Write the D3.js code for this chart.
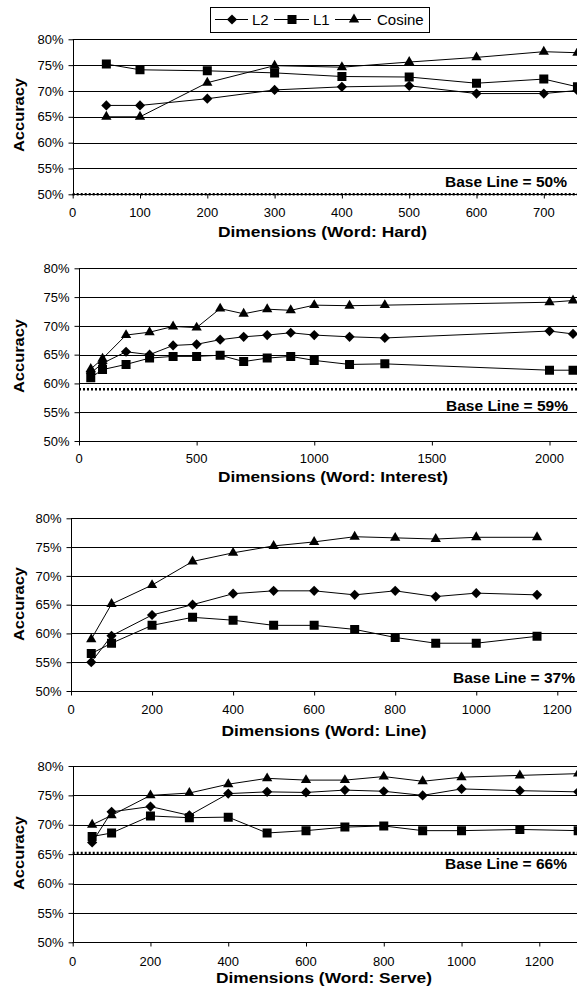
<!DOCTYPE html>
<html>
<head>
<meta charset="utf-8">
<script src="https://cdn.jsdelivr.net/npm/d3@7"></script>
<style>
  html, body { margin: 0; padding: 0; background: #fff; }
  svg { display: block; }
  text { font-family: "Liberation Sans", Arial, sans-serif; fill: #000; }
</style>
</head>
<body>
<svg id="chart" width="577" height="987"></svg>
<script>
// ---------------- data ----------------
const seriesNames = ["L2", "L1", "Cosine"];
const words = ["Hard", "Interest", "Line", "Serve"];
const baselineLabels = ["50%", "59%", "37%", "66%"];
const baselineValues = [50, 59, 37, 65.2];
const yTickValues = [50, 55, 60, 65, 70, 75, 80];

const hardDims   = [50, 100, 200, 300, 400, 500, 600, 700, 750];
const hardL2     = [67.2, 67.2, 68.5, 70.2, 70.8, 71.0, 69.5, 69.5, 70.1];
const hardL1     = [75.2, 74.1, 73.9, 73.5, 72.8, 72.7, 71.5, 72.3, 70.8];
const hardCos    = [65.0, 65.0, 71.6, 74.9, 74.6, 75.6, 76.5, 77.6, 77.4];
const hardTicks  = [0, 100, 200, 300, 400, 500, 600, 700];

const interestDims  = [50, 100, 200, 300, 400, 500, 600, 700, 800, 900, 1000, 1150, 1300, 2000, 2100];
const interestL2    = [61.8, 63.5, 65.5, 65.0, 66.6, 66.8, 67.6, 68.1, 68.4, 68.8, 68.4, 68.1, 67.9, 69.1, 68.6];
const interestL1    = [61.0, 62.4, 63.3, 64.4, 64.7, 64.7, 64.9, 63.8, 64.4, 64.7, 64.0, 63.3, 63.4, 62.3, 62.3];
const interestCos   = [62.5, 64.3, 68.4, 68.9, 69.9, 69.7, 73.0, 72.1, 72.9, 72.7, 73.6, 73.5, 73.6, 74.1, 74.4];
const interestTicks = [0, 500, 1000, 1500, 2000];

const lineDims  = [50, 100, 200, 300, 400, 500, 600, 700, 800, 900, 1000, 1150];
const lineL2    = [55.0, 59.6, 63.2, 65.0, 66.9, 67.4, 67.4, 66.7, 67.4, 66.4, 67.0, 66.7];
const lineL1    = [56.5, 58.3, 61.4, 62.8, 62.3, 61.4, 61.4, 60.7, 59.3, 58.3, 58.3, 59.5];
const lineCos   = [59.0, 65.1, 68.4, 72.5, 74.0, 75.2, 75.9, 76.8, 76.6, 76.4, 76.7, 76.7];
const lineTicks = [0, 200, 400, 600, 800, 1000, 1200];

const serveDims  = [50, 100, 200, 300, 400, 500, 600, 700, 800, 900, 1000, 1150, 1300];
const serveL2    = [67.0, 72.2, 73.1, 71.6, 75.3, 75.6, 75.5, 75.9, 75.7, 75.0, 76.1, 75.8, 75.6];
const serveL1    = [68.0, 68.6, 71.5, 71.2, 71.3, 68.6, 69.0, 69.6, 69.8, 69.0, 69.0, 69.2, 69.0];
const serveCos   = [70.0, 71.6, 75.0, 75.4, 76.9, 77.9, 77.6, 77.6, 78.2, 77.4, 78.1, 78.4, 78.7];
const serveTicks = [0, 200, 400, 600, 800, 1000, 1200];

const panelData = [
  { dims: hardDims, values: [hardL2, hardL1, hardCos], ticks: hardTicks },
  { dims: interestDims, values: [interestL2, interestL1, interestCos], ticks: interestTicks },
  { dims: lineDims, values: [lineL2, lineL1, lineCos], ticks: lineTicks },
  { dims: serveDims, values: [serveL2, serveL1, serveCos], ticks: serveTicks }
];

// ---------------- layout ----------------
const W = 577;
const layouts = [
  { left: 72.7, xRef: 700,  xRefPx: 543.8, top: 39.3,  bottom: 194.3, tickY: 212,   titleX: 218,   titleW: 209, titleY: 231.7, accY: 115, blX: 445, blY: 181.7 },
  { left: 79,   xRef: 2000, xRefPx: 549.5, top: 268.3, bottom: 441,   tickY: 458,   titleX: 218,   titleW: 230, titleY: 476.7, accY: 356, blX: 446, blY: 406 },
  { left: 71,   xRef: 1200, xRefPx: 557.3, top: 518.3, bottom: 691,   tickY: 709,   titleX: 221.5, titleW: 205, titleY: 730.5, accY: 604, blX: 453, blY: 678.3 },
  { left: 72.7, xRef: 1200, xRefPx: 539.3, top: 766,   bottom: 942.3, tickY: 961,   titleX: 216,   titleW: 216, titleY: 977.3, accY: 853, blX: 445, blY: 864.3 }
];

const svg = d3.select("#chart");

const symDiamond = d3.symbol().type(d3.symbolSquare).size(52);
const symSquare = d3.symbol().type(d3.symbolSquare).size(81);
const symTriangle = d3.symbol().type(d3.symbolTriangle).size(46);
function markerPath(i) {
  if (i === 0) return symDiamond();
  if (i === 1) return symSquare();
  return symTriangle();
}
function markerRotate(i) { return i === 0 ? " rotate(45)" : ""; }

panelData.forEach((pd, p) => {
  const L = layouts[p];
  const x = d3.scaleLinear().domain([0, L.xRef]).range([L.left, L.xRefPx]);
  const y = d3.scaleLinear().domain([50, 80]).range([L.bottom, L.top]);
  const g = svg.append("g");

  const clipId = "clip" + p;
  svg.append("clipPath").attr("id", clipId)
    .append("rect").attr("x", L.left - 8).attr("y", L.top - 10)
    .attr("width", W - L.left + 8).attr("height", L.bottom - L.top + 20);

  // gridlines
  g.selectAll("line.grid").data(yTickValues).enter().append("line")
    .attr("x1", L.left).attr("x2", W)
    .attr("y1", d => Math.round(y(d)) + 0.5).attr("y2", d => Math.round(y(d)) + 0.5)
    .attr("stroke", "#000").attr("stroke-width", 1);

  // y axis
  const yAxis = d3.axisLeft(y).tickValues(yTickValues).tickSize(5).tickPadding(5)
    .tickFormat(d => d + "%");
  const ya = g.append("g").attr("transform", `translate(${Math.round(L.left) + 0.5},0)`).call(yAxis);
  ya.select(".domain").attr("stroke", "#000").attr("d", `M0,${y(80)}V${y(50)}`);
  ya.selectAll("text").style("font-size", "13px").attr("fill", "#000");

  // x axis
  const xAxis = d3.axisBottom(x).tickValues(pd.ticks).tickSize(4).tickPadding(6)
    .tickFormat(d3.format("d"));
  const xa = g.append("g").attr("transform", `translate(0,${Math.round(L.bottom) + 0.5})`).call(xAxis);
  xa.select(".domain").attr("d", `M${L.left},0H${W}`).attr("stroke", "#000");
  xa.selectAll("text").remove();
  g.selectAll("text.xt").data(pd.ticks).enter().append("text")
    .attr("x", d => x(d)).attr("y", L.tickY).attr("dy", "0.35em")
    .attr("text-anchor", "middle").style("font-size", "13px").text(d => d);

  // baseline
  const bl = baselineValues[p];
  if (bl >= 50) {
    g.append("line").attr("x1", L.left).attr("x2", W)
      .attr("y1", y(bl)).attr("y2", y(bl))
      .attr("stroke", "#000").attr("stroke-width", 2.5).attr("stroke-dasharray", "2,2");
  }
  g.append("text").attr("x", L.blX).attr("y", L.blY).attr("dy", "0.35em")
    .style("font-size", "14.5px").style("font-weight", "bold")
    .attr("textLength", 122).attr("lengthAdjust", "spacingAndGlyphs")
    .text("Base Line = " + baselineLabels[p]);

  // series
  const line = d3.line().x(d => x(d[0])).y(d => y(d[1]));
  const sg = g.append("g").attr("clip-path", `url(#${clipId})`);
  pd.values.forEach((vals, i) => {
    const pts = pd.dims.map((d, k) => [d, vals[k]]);
    sg.append("path").datum(pts).attr("d", line)
      .attr("fill", "none").attr("stroke", "#000").attr("stroke-width", 1);
    sg.selectAll(null).data(pts).enter().append("path")
      .attr("d", markerPath(i))
      .attr("transform", d => `translate(${x(d[0])},${y(d[1])})` + markerRotate(i))
      .attr("fill", "#000");
  });

  // titles
  g.append("text").attr("x", L.titleX).attr("y", L.titleY).attr("dy", "0.35em")
    .style("font-size", "15.5px").style("font-weight", "bold")
    .attr("textLength", L.titleW).attr("lengthAdjust", "spacingAndGlyphs")
    .text("Dimensions (Word: " + words[p] + ")");
  g.append("text").attr("transform", `translate(18.5,${L.accY}) rotate(-90)`)
    .attr("x", -37).attr("dy", "0.35em")
    .style("font-size", "15.5px").style("font-weight", "bold")
    .attr("textLength", 74).attr("lengthAdjust", "spacingAndGlyphs")
    .text("Accuracy");
});

// legend
const lg = svg.append("g");
lg.append("rect").attr("x", 210.5).attr("y", 7.5).attr("width", 219).attr("height", 25)
  .attr("fill", "#fff").attr("stroke", "#000").attr("stroke-width", 1);
const legendItems = [
  { x1: 215, x2: 248, mx: 232, tx: 252 },
  { x1: 274, x2: 309, mx: 292, tx: 313 },
  { x1: 335, x2: 371, mx: 354, tx: 377 }
];
seriesNames.forEach((name, i) => {
  const it = legendItems[i];
  lg.append("line").attr("x1", it.x1).attr("x2", it.x2).attr("y1", 19.5).attr("y2", 19.5)
    .attr("stroke", "#000").attr("stroke-width", 1);
  lg.append("path").attr("d", markerPath(i))
    .attr("transform", `translate(${it.mx},19.5)` + markerRotate(i)).attr("fill", "#000");
  lg.append("text").attr("x", it.tx).attr("y", 19.5).attr("dy", "0.35em")
    .style("font-size", "15px").text(name);
});
</script>
</body>
</html>
